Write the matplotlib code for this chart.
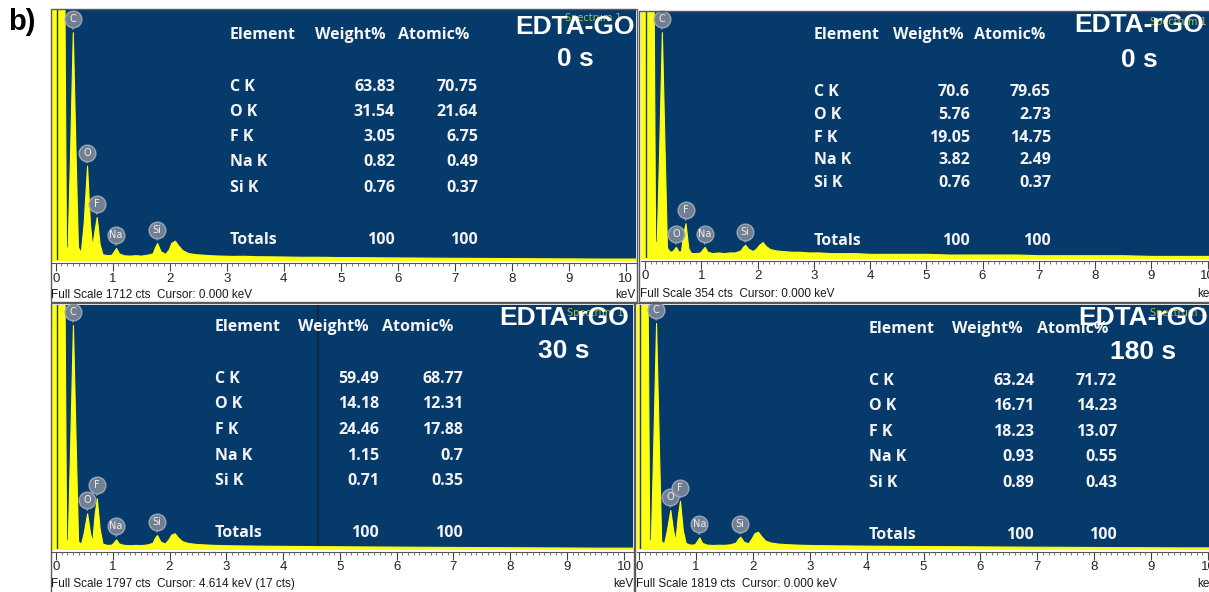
import numpy as np
import matplotlib
matplotlib.use("Agg")
import matplotlib.pyplot as plt
from matplotlib.patches import Rectangle
from matplotlib.transforms import offset_copy

W, H, DPI = 1209, 592, 100

# ---------------- quantification tables ----------------
elements = ["C K", "O K", "F K", "Na K", "Si K"]
go0_weight = [63.83, 31.54, 3.05, 0.82, 0.76]
go0_atomic = [70.75, 21.64, 6.75, 0.49, 0.37]
rgo0_weight = [70.6, 5.76, 19.05, 3.82, 0.76]
rgo0_atomic = [79.65, 2.73, 14.75, 2.49, 0.37]
rgo30_weight = [59.49, 14.18, 24.46, 1.15, 0.71]
rgo30_atomic = [68.77, 12.31, 17.88, 0.7, 0.35]
rgo180_weight = [63.24, 16.71, 18.23, 0.93, 0.89]
rgo180_atomic = [71.72, 14.23, 13.07, 0.55, 0.43]
total_weight = 100
total_atomic = 100

sample_names = ["EDTA-GO\n0 s", "EDTA-rGO\n0 s", "EDTA-rGO\n30 s", "EDTA-rGO\n180 s"]
full_scale_cts = [1712, 354, 1797, 1819]
cursor_kev = [0.000, 0.000, 4.614, 0.000]
cursor_cts = [None, None, 17, None]

# ---------------- EDS spectra (energy in keV, counts) ----------------
peak_names = ["C", "O", "F", "Na", "Si"]
peak_kev = [0.30, 0.55, 0.72, 1.06, 1.78]

spec_kev = [-0.10, -0.07, 0.15, 0.18, 0.21, 0.25, 0.30, 0.35, 0.39, 0.44,
            0.49, 0.55, 0.60, 0.64, 0.68, 0.72, 0.77, 0.82, 0.90, 0.98,
            1.02, 1.06, 1.11, 1.20, 1.30, 1.40, 1.50, 1.60, 1.70, 1.74,
            1.78, 1.84, 1.92, 1.98, 2.03, 2.09, 2.15, 2.22, 2.32, 2.45,
            2.60, 2.75, 2.90, 3.10, 3.30, 3.50, 3.75, 4.00, 4.30, 4.60,
            5.00, 5.40, 5.80, 6.20, 6.60, 7.00, 7.50, 8.00, 8.50, 9.00,
            9.50, 10.00, 10.30]

counts_go0 = [0, 2000, 2000, 80, 90, 700, 1560, 700, 90, 50,
              250, 646, 250, 90, 200, 294, 110, 40, 33, 36,
              60, 82, 45, 32, 30, 33, 30, 36, 45, 85,
              116, 60, 42, 70, 118, 132, 100, 68, 48, 40,
              36, 32, 30, 28, 29, 26, 25, 24, 22, 22,
              20, 19, 18, 17, 16, 15, 14, 13, 12, 11,
              10, 10, 10]

counts_rgo0 = [0, 420, 420, 20, 25, 150, 325, 150, 15, 9,
               10, 16, 9, 10, 35, 50, 14, 7, 7, 8,
               12, 16, 9, 7, 8, 7, 8, 8, 11, 16,
               19, 13, 10, 14, 19, 23, 17, 13, 11, 10,
               9, 9, 8, 8, 7, 7, 7, 6, 6, 6,
               6, 5, 5, 5, 5, 4, 4, 4, 4, 3,
               3, 3, 3]

counts_rgo30 = [0, 2000, 2000, 60, 70, 750, 1650, 750, 60, 35,
                120, 263, 120, 50, 250, 373, 150, 40, 30, 32,
                50, 71, 40, 30, 28, 30, 29, 33, 45, 80,
                103, 55, 40, 70, 105, 116, 85, 58, 45, 38,
                34, 31, 29, 27, 26, 25, 24, 23, 22, 21,
                20, 19, 18, 17, 16, 15, 14, 13, 12, 11,
                10, 10, 10]

counts_rgo180 = [0, 2000, 2000, 60, 70, 760, 1685, 760, 60, 40,
                 140, 291, 140, 60, 240, 360, 140, 45, 32, 35,
                 60, 87, 45, 32, 30, 32, 31, 35, 48, 75,
                 92, 55, 42, 80, 118, 129, 95, 62, 48, 40,
                 36, 33, 31, 29, 28, 27, 26, 25, 24, 23,
                 22, 21, 20, 19, 18, 17, 16, 15, 14, 13,
                 12, 12, 12]

weights = [go0_weight, rgo0_weight, rgo30_weight, rgo180_weight]
atomics = [go0_atomic, rgo0_atomic, rgo30_atomic, rgo180_atomic]
spectra = [counts_go0, counts_rgo0, counts_rgo30, counts_rgo180]

# ---------------- styling / layout (pixels) ----------------
BLUE = "#053a6b"
YELLOW = "#ffff14"
TABLE_FONT = "Open Sans"
TITLE_FONT = "Liberation Sans"

# blue plot area: left, right, top, bottom, pixel of 0 keV, pixels per keV
plot_box = [
    (52, 636, 10, 260, 55.7, 57.0),
    (641, 1218, 12, 258, 645.0, 56.26),
    (52, 633, 305, 549, 55.9, 56.8),
    (637, 1218, 305, 549, 639.0, 56.9),
]
# outer frame of each panel
frame_box = [(51, 9, 637, 302), (639, 11, 1214, 302),
             (51, 303, 634, 596), (635, 303, 1214, 596)]
# table: label x, weight-right x, atomic-right x, weight header x, atomic header x,
#        header y, row ys, totals y
table_box = [
    (230, 395, 478, 315, 398, 35, [87, 112, 137, 162, 188], 240),
    (814, 970, 1051, 893, 974, 35, [92, 115, 138, 160, 183], 241),
    (215, 379, 463, 298, 382, 327, [379, 404, 430, 456, 481], 533),
    (869, 1034, 1117, 952, 1037, 329, [381, 406, 432, 457, 483], 535),
]
# title centre x, first-line y, second-line y, "Spectrum" label x,y
title_box = [(575, 27, 59, 565, 18), (1139, 25, 60, 1150, 22),
             (564, 318, 351, 567, 313), (1143, 318, 352, 1150, 313)]
# y of the full-scale/cursor line
status_y = [295, 294, 584, 584]

fig = plt.figure(figsize=(W / DPI, H / DPI), dpi=DPI)
fig.patch.set_facecolor("white")


def fx(px):
    return px / W


def fy(py):
    return 1 - py / H


for i in range(4):
    left, right, top, bottom, zero, ppk = plot_box[i]
    ax = fig.add_axes([fx(left), fy(bottom), (right - left) / W, (bottom - top) / H])
    ax.set_facecolor(BLUE)
    ax.set_xlim((left - zero) / ppk, (right - zero) / ppk)
    ax.set_ylim(0, full_scale_cts[i])

    if cursor_kev[i] > 0:
        ax.axvline(cursor_kev[i], color="#0c2440", lw=1.2, zorder=1)

    ax.fill_between(spec_kev, spectra[i], 0, color=YELLOW, lw=0.8,
                    edgecolor=YELLOW, zorder=2)
    ax.axvline(0.02, color="#20402a", lw=1.0, zorder=3)

    # element markers above each peak
    circ_tr = offset_copy(ax.transData, fig=fig, x=0, y=13, units="dots")
    for name, e in zip(peak_names, peak_kev):
        h = spectra[i][spec_kev.index(e)]
        ax.plot([e, e], [h, h], color="#9aa5b1", lw=0.8, zorder=4,
                transform=ax.transData)
        ax.annotate("", xy=(e, h), xytext=(0, 6), textcoords="offset points",
                    arrowprops=dict(arrowstyle="-", color="#8f9aa8", lw=0.9),
                    zorder=4)
        ax.plot(e, h, "o", ms=12, mfc="#7a8696", mec="#a3adb9", mew=1.0,
                alpha=0.92, transform=circ_tr, zorder=5, clip_on=False)
        ax.text(e, h, name, transform=circ_tr, ha="center", va="center",
                fontsize=7, color="#eef0f2", zorder=6, family="DejaVu Sans")

    for s in ["top", "left", "right"]:
        ax.spines[s].set_visible(False)
    ax.spines["bottom"].set_color("#555555")
    ax.spines["bottom"].set_position(("outward", 2))
    ax.set_yticks([])
    ax.set_xticks(np.arange(0, 11, 1))
    ax.set_xticks(np.arange(0, 10.05, 0.1), minor=True)
    ax.tick_params(axis="x", which="major", direction="out", length=5.5,
                   width=0.8, color="#444444", labelsize=9.5, pad=1.5,
                   labelcolor="#222222")
    ax.tick_params(axis="x", which="minor", direction="out", length=2.5,
                   width=0.6, color="#666666")
    for lab in ax.get_xticklabels():
        lab.set_family(TITLE_FONT)

# overlay for frames and text in pixel coordinates
ov = fig.add_axes([0, 0, 1, 1], zorder=10)
ov.set_xlim(0, W)
ov.set_ylim(H, 0)
ov.axis("off")

for (x0, y0, x1, y1) in frame_box:
    ov.add_patch(Rectangle((x0, y0), x1 - x0, y1 - y0, fill=False,
                           edgecolor="#5a5a5a", lw=1.0))

ov.text(8, 22, "b)", fontsize=21, fontweight="bold", family=TITLE_FONT,
        ha="left", va="center", color="black")

for i in range(4):
    lx, wr, ar, wh, ah, hy, rows, ty = table_box[i]
    tkw = dict(fontsize=11.5, fontweight="bold", family=TABLE_FONT,
               color="#f4f4f4", va="center")
    ov.text(lx, hy, "Element", ha="left", **tkw)
    ov.text(wh, hy, "Weight%", ha="left", **tkw)
    ov.text(ah, hy, "Atomic%", ha="left", **tkw)
    for el, wv, av, ry in zip(elements, weights[i], atomics[i], rows):
        ov.text(lx, ry, el, ha="left", **tkw)
        ov.text(wr, ry, f"{wv:g}", ha="right", **tkw)
        ov.text(ar, ry, f"{av:g}", ha="right", **tkw)
    ov.text(lx, ty, "Totals", ha="left", **tkw)
    ov.text(wr, ty, f"{total_weight:g}", ha="right", **tkw)
    ov.text(ar, ty, f"{total_atomic:g}", ha="right", **tkw)

    cx, y1, y2, sx, sy = title_box[i]
    ov.text(sx, sy, "Spectrum 1", fontsize=7, color="#a8c43a", ha="left",
            va="center", family="DejaVu Sans")
    line1, line2 = sample_names[i].split("\n")
    ov.text(cx, y1, line1, fontsize=19, fontweight="bold", family=TITLE_FONT,
            color="white", ha="center", va="center")
    ov.text(cx, y2, line2, fontsize=19, fontweight="bold", family=TITLE_FONT,
            color="white", ha="center", va="center")

    left, right, top, bottom, zero, ppk = plot_box[i]
    status = f"Full Scale {full_scale_cts[i]} cts  Cursor: {cursor_kev[i]:.3f} keV"
    if cursor_cts[i] is not None:
        status += f" ({cursor_cts[i]} cts)"
    ov.text(left - 1, status_y[i], status, fontsize=8.5, family=TITLE_FONT,
            color="#1a1a1a", ha="left", va="center")
    ov.text(right, status_y[i], "keV", fontsize=8.5, family=TITLE_FONT,
            color="#1a1a1a", ha="right", va="center")

fig.savefig("out.png", dpi=DPI, facecolor="white")
